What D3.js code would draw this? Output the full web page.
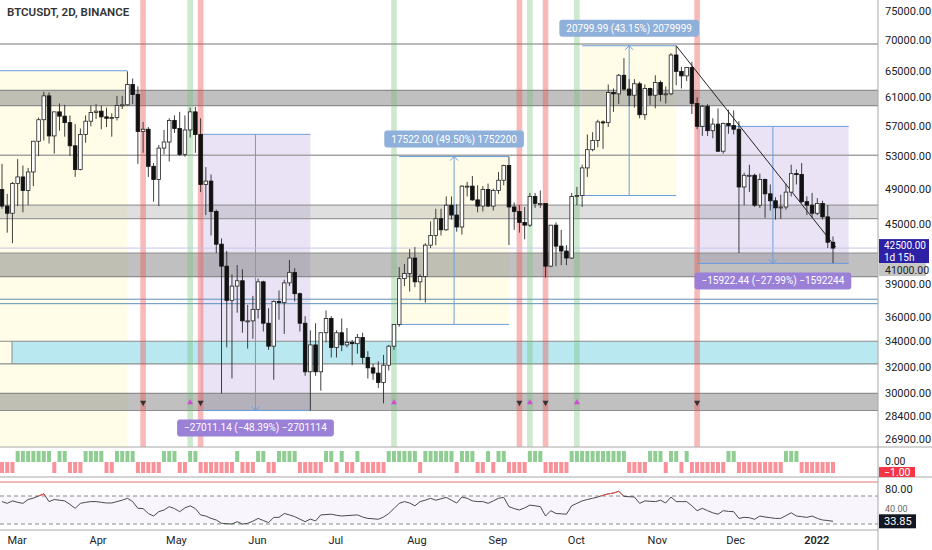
<!DOCTYPE html>
<html>
<head>
<meta charset="utf-8">
<script src="https://cdn.jsdelivr.net/npm/d3@7"></script>
<style>
  body { margin: 0; background: #fff; }
  svg { display: block; font-family: Roboto, "Noto Sans", sans-serif; }
</style>
</head>
<body>
<svg id="chart"></svg>
<script>
// ---- data (prices in thousands of USDT, 2D candles from 2021-02-24) ----
let firstCandle = '2021-02-24';
let opens = [
  48.9,47.0,46.2,49.6,50.4,48.8,51.0,54.9,57.8,61.2, 55.6,58.9,58.3,57.4,54.3,51.3,55.8,57.6,58.8,59.0,
  58.2,58.0,58.1,59.8,59.9,62.9,61.4,56.2,56.5,51.7, 50.1,54.0,54.8,57.7,56.6,53.2,56.4,58.9,55.8,49.5,
  49.9,46.4,42.9,40.7,37.5,38.8,39.3,35.7,35.7,36.7, 39.2,35.5,33.6,37.4,37.3,39.1,40.1,38.1,35.5,31.6,
  33.7,31.6,34.7,35.9,33.5,34.7,33.7,33.9,33.8,34.3, 32.7,31.9,31.5,30.8,32.1,33.6,35.4,39.5,40.0,41.5,
  39.2,39.7,42.8,43.8,45.6,44.4,47.1,46.0,44.7,49.3, 49.3,47.7,47.0,48.9,47.0,48.8,50.0,51.8,46.9,46.4,
  45.2,44.9,48.1,47.3,47.3,40.7,44.9,42.7,42.2,41.5, 48.1,48.2,51.5,53.8,55.0,57.5,57.4,61.7,61.5,64.3,
  62.2,61.3,63.0,58.5,62.3,61.3,63.2,61.4,61.5,67.5, 64.9,64.2,65.5,60.1,56.9,59.7,56.3,57.2,53.6,57.3,
  57.0,56.5,49.2,50.6,50.6,47.1,50.1,48.4,47.6,46.8, 46.9,48.6,50.8,50.7,47.5,47.1,46.2,47.3,45.8,43.1
];
let highs = [
  52.0,48.4,49.8,52.6,51.8,51.5,54.9,58.1,61.8,61.7, 58.9,60.1,59.9,58.4,57.2,56.6,58.4,59.8,60.0,59.8,
  59.5,58.7,61.2,61.2,64.9,63.8,62.6,57.5,56.8,52.1, 54.4,56.4,58.0,58.4,58.9,58.4,59.5,59.6,58.0,51.6,
  50.7,46.6,43.5,42.2,39.9,40.8,40.4,37.1,37.9,39.5, 39.3,36.8,37.5,38.4,39.4,41.3,40.5,38.2,36.1,34.9,
  35.5,34.7,36.6,36.1,34.9,35.9,35.1,34.1,34.6,34.7, 33.2,32.2,32.4,32.9,33.7,35.4,40.6,40.9,42.4,42.6,
  39.9,43.0,45.3,46.7,46.7,48.1,48.1,47.2,49.4,49.8, 50.5,49.4,49.3,49.6,49.0,51.0,51.9,52.9,47.4,47.1,
  46.9,48.5,48.5,48.8,47.3,44.9,45.2,44.4,42.8,48.5, 49.2,51.9,55.8,56.1,57.8,57.7,62.9,62.3,64.5,67.0,
  63.7,63.7,63.3,62.9,62.4,64.3,63.5,62.6,67.8,69.0, 65.6,65.5,66.4,61.0,59.9,60.0,58.0,59.4,57.4,59.2,
  59.1,57.6,50.9,51.9,50.8,50.8,50.2,49.5,48.0,48.3, 49.6,51.9,51.3,52.1,48.1,48.5,47.9,47.6,47.1,43.7
];
let lows = [
  46.7,44.1,43.0,47.0,46.3,47.1,49.3,53.0,55.0,54.6, 53.3,56.3,55.5,53.0,50.4,51.2,54.7,56.9,57.9,56.5,
  56.8,55.5,57.7,59.3,59.8,60.0,52.0,53.4,50.4,47.5, 47.0,53.2,52.3,56.0,53.0,52.9,55.4,53.4,48.6,46.0,
  43.8,42.0,30.0,33.5,31.1,36.4,34.7,33.4,34.2,35.9, 34.8,33.3,31.0,35.8,34.6,38.8,37.4,34.8,31.3,28.8,
  31.3,30.2,33.9,32.7,32.7,33.2,33.5,32.1,33.0,32.2, 31.1,31.0,30.4,29.3,31.7,33.3,35.2,38.8,38.3,38.7,
  37.5,37.3,42.5,42.8,43.8,44.3,45.5,44.2,43.9,48.1, 47.6,46.3,46.4,46.9,46.5,48.4,49.4,42.8,44.4,44.1,
  43.4,44.7,46.8,46.8,39.6,40.6,40.7,40.8,40.8,41.4, 47.1,46.9,50.4,53.6,54.1,53.9,56.8,58.9,60.0,62.0,
  59.7,59.5,58.0,57.8,59.9,59.4,60.4,60.1,61.3,62.8, 62.3,63.4,58.6,56.5,55.6,55.6,55.3,53.5,53.3,55.9,
  55.8,42.0,47.1,48.6,46.9,46.8,45.7,46.5,45.5,45.6, 46.6,48.1,49.5,47.3,46.0,45.7,46.0,45.5,42.5,41.0
];
let closes = [
  47.0,46.2,49.6,50.4,48.8,51.0,54.9,57.8,61.2,55.6, 58.9,58.3,57.4,54.3,51.3,55.8,57.6,58.8,59.0,58.2,
  58.0,58.1,59.8,59.9,62.9,61.4,56.2,56.5,51.7,50.1, 54.0,54.8,57.7,56.6,53.2,56.4,58.9,55.8,49.5,49.9,
  46.4,42.9,40.7,37.5,38.8,39.3,35.7,35.7,36.7,39.2, 35.5,33.6,37.4,37.3,39.1,40.1,38.1,35.5,31.6,33.7,
  31.6,34.7,35.9,33.5,34.7,33.7,33.9,33.8,34.3,32.7, 31.9,31.5,30.8,32.1,33.6,35.4,39.5,40.0,41.5,39.2,
  39.7,42.8,43.8,45.6,44.4,47.1,46.0,44.7,49.3,49.3, 47.7,47.0,48.9,47.0,48.8,50.0,51.8,46.9,46.4,45.2,
  44.9,48.1,47.3,47.3,40.7,44.9,42.7,42.2,41.5,48.1, 48.2,51.5,53.8,55.0,57.5,57.4,61.7,61.5,64.3,62.2,
  61.3,63.0,58.5,62.3,61.3,63.2,61.4,61.5,67.5,64.9, 64.2,65.5,60.1,56.9,59.7,56.3,57.2,53.6,57.3,57.0,
  56.5,49.2,50.6,50.6,47.1,50.1,48.4,47.6,46.8,46.9, 48.6,50.8,50.7,47.5,47.1,46.2,47.3,45.8,43.1,42.5
];
// trend state of the first indicator pane: 1 = green, -1 = red
let bias = [
  -1,-1,-1,1,1,1,1,1,1,1, -1,1,1,-1,-1,-1,1,1,1,1,
  -1,-1,1,1,1,1,-1,-1,-1,-1, -1,1,1,1,-1,-1,1,1,-1,-1,
  -1,-1,-1,-1,-1,1,-1,-1,-1,1, 1,-1,-1,1,1,1,1,-1,-1,-1,
  -1,-1,1,1,-1,1,-1,-1,1,-1, -1,-1,-1,-1,1,1,1,1,1,1,
  -1,1,1,1,1,1,1,-1,1,1, 1,-1,-1,1,-1,1,1,-1,-1,-1,
  -1,1,1,1,-1,-1,-1,-1,-1,1, 1,1,1,1,1,1,1,1,1,1,
  -1,-1,-1,-1,1,1,1,-1,1,1, -1,1,-1,-1,-1,-1,-1,-1,-1,1,
  1,-1,-1,-1,-1,-1,-1,-1,-1,-1, 1,1,1,-1,-1,-1,-1,-1,-1,-1
];
let rsi = [
  62,59.5,63,61,59.5,65,67,70,73,62, 65,64,63,58,52.4,59.5,61,62,62,61,
  60,60,62,64,66.7,62,52.4,52,45,41.4, 47.6,50,54.8,52,47.6,53,56,52,42.9,41.4,
  38,35.7,31,30.5,30,33.3,30,31,34,38, 35,32,39.5,39.5,45,43,40.5,37,33.3,37,
  34.4,43,43.5,44,42.5,41.4,42,42.5,43,40, 38,37.5,36.7,40,45,52,59.5,62,60,56,
  62,64,66.7,64,66,68,64,60,68.6,66.7, 63,62,62,59.5,63,66.7,68,54.8,52,50,
  53,57,56,54.8,41.4,49,45,44.5,44,56, 59.5,63,65,66.7,68.6,71,73,74.3,76.7,69.5,
  69,68.6,59.5,63,62.5,62,64,60,68.6,62, 62,62,56,49,52.4,49,46,44,49,48,
  47.6,38,39.5,39,36.7,41.4,40,39,38,38, 42,46,41.4,40.5,39.5,41.4,38,35.7,35,33.85
];

let redSignals = ['2021-04-19', '2021-05-11', '2021-09-10', '2021-09-20', '2021-11-17'];
let greenSignals = ['2021-05-07', '2021-07-24', '2021-09-14', '2021-10-02'];

let lineLevels = [69.3, 53.1];
let darkBands = [[59.8, 62.0], [39.7, 42.0], [28.8, 30.0]];
let lightBands = [[45.6, 47.1]];
let cyanBands = [[32.2, 34.0]];
let blueLevels = [37.2, 37.6];

let longZones = [
  { from: '2021-02-10', to: '2021-04-13', top: 65.0, bottom: 26.0, text: '' },
  { from: '2021-07-26', to: '2021-09-06', top: 52.92, bottom: 35.398, text: '17522.00 (49.50%) 1752200' },
  { from: '2021-10-04', to: '2021-11-09', top: 69.004, bottom: 48.204, text: '20799.99 (43.15%) 2079999' }
];
let shortZones = [
  { from: '2021-05-11', to: '2021-06-22', top: 55.816, bottom: 28.805, text: '\u221227011.14 (\u221248.39%) \u22122701114' },
  { from: '2021-11-17', to: '2022-01-14', top: 56.886, bottom: 40.964, text: '\u221215922.44 (\u221227.99%) \u22121592244' }
];
let trendLine = [['2021-11-09', 69.0], ['2022-01-09', 42.6]];

let priceTicks = [75, 70, 65, 61, 57, 53, 49, 45, 39, 36, 34, 32, 30, 28.4, 26.9];
let lastPrice = 42.5;
let monthTicks = ['2021-03-01','2021-04-01','2021-05-01','2021-06-01','2021-07-01','2021-08-01',
                  '2021-09-01','2021-10-01','2021-11-01','2021-12-01','2022-01-01'];

// ---- setup ----
let w = 932, h = 550;
let axisX = 878;
let day = s => new Date(s + 'T00:00:00Z');
let start = day(firstCandle);
let candleDates = d3.range(closes.length).map(i => d3.utcDay.offset(start, 2 * i));

let svg = d3.select('#chart').attr('width', w).attr('height', h);

let x = d3.scaleUtc().domain([start, candleDates[candleDates.length - 1]]).range([2, 833]);
let y = d3.scaleLog().domain([26.9, 75]).range([439, 11]);
let yBias = d3.scaleLinear().domain([-1, 1]).range([473, 451]);
let yRsi = d3.scaleLinear().domain([30, 70]).range([524, 496]);

let defs = svg.append('defs');
let clip = (id, x0, y0, cw, ch) => defs.append('clipPath').attr('id', id)
  .append('rect').attr('x', x0).attr('y', y0).attr('width', cw).attr('height', ch);
clip('mainClip', 0, 0, axisX, 447);
clip('biasClip', 0, 447, axisX, 30);
clip('rsiClip', 0, 477, axisX, 53);
clip('rsiHigh', 0, 477, axisX, yRsi(70) - 477);
clip('rsiLow', 0, yRsi(30), axisX, 530 - yRsi(30));

let main = svg.append('g').attr('clip-path', 'url(#mainClip)');

// zone fills
main.selectAll('rect.long').data(longZones).enter().append('rect')
  .attr('x', d => x(day(d.from))).attr('width', d => x(day(d.to)) - x(day(d.from)))
  .attr('y', d => y(d.top)).attr('height', d => y(d.bottom) - y(d.top))
  .attr('fill', 'rgba(255,235,59,0.12)');
main.selectAll('rect.short').data(shortZones).enter().append('rect')
  .attr('x', d => x(day(d.from))).attr('width', d => x(day(d.to)) - x(day(d.from)))
  .attr('y', d => y(d.top)).attr('height', d => y(d.bottom) - y(d.top))
  .attr('fill', 'rgba(149,117,205,0.2)');

// horizontal zones
let band = (list, fill, stroke) => {
  list.forEach(b => {
    main.append('rect').attr('x', 0).attr('width', axisX)
      .attr('y', y(b[1])).attr('height', y(b[0]) - y(b[1]))
      .attr('fill', fill);
    [b[0], b[1]].forEach(v => main.append('line')
      .attr('x1', 0).attr('x2', axisX).attr('y1', y(v)).attr('y2', y(v))
      .attr('stroke', stroke).attr('stroke-width', 1.2));
  });
};
band(darkBands, 'rgba(115,115,115,0.45)', '#8d8d8d');
band(lightBands, 'rgba(150,150,150,0.3)', '#9a9a9a');
cyanBands.forEach(b => {
  main.append('rect').attr('x', 12).attr('width', axisX - 12)
    .attr('y', y(b[1])).attr('height', y(b[0]) - y(b[1])).attr('fill', '#b9e8f0');
  main.append('line').attr('x1', 12).attr('x2', 12).attr('y1', y(b[1])).attr('y2', y(b[0]))
    .attr('stroke', '#8d8d8d');
  [b[0], b[1]].forEach(v => main.append('line')
    .attr('x1', 0).attr('x2', axisX).attr('y1', y(v)).attr('y2', y(v))
    .attr('stroke', '#8d8d8d').attr('stroke-width', 1.2));
});
lineLevels.forEach(v => main.append('line')
  .attr('x1', 0).attr('x2', axisX).attr('y1', y(v)).attr('y2', y(v))
  .attr('stroke', '#a3a3a3').attr('stroke-width', 1.5));
blueLevels.forEach(v => main.append('line')
  .attr('x1', 0).attr('x2', axisX).attr('y1', y(v)).attr('y2', y(v))
  .attr('stroke', '#5d8fb8').attr('stroke-width', 1));

// signal stripes
main.selectAll('rect.red').data(redSignals).enter().append('rect')
  .attr('x', d => x(day(d)) - 2.8).attr('width', 5.6).attr('y', 0).attr('height', 447)
  .attr('fill', 'rgba(242,80,80,0.4)');
main.selectAll('rect.green').data(greenSignals).enter().append('rect')
  .attr('x', d => x(day(d)) - 2.8).attr('width', 5.6).attr('y', 0).attr('height', 447)
  .attr('fill', 'rgba(102,187,106,0.33)');

// zone edges + arrows
let blue = '#6b9ddd';
let edges = (zones, up) => zones.forEach(z => {
  let x0 = x(day(z.from)), x1 = x(day(z.to));
  let xm = (x0 + x1) / 2;
  [z.top, z.bottom].forEach(v => main.append('line')
    .attr('x1', x0).attr('x2', x1).attr('y1', y(v)).attr('y2', y(v))
    .attr('stroke', blue).attr('stroke-width', 1));
  if (!z.text) return;
  main.append('line').attr('x1', xm).attr('x2', xm).attr('y1', y(z.top)).attr('y2', y(z.bottom))
    .attr('stroke', blue).attr('stroke-width', 1);
  let tip = up ? y(z.top) : y(z.bottom);
  let s = up ? 1 : -1;
  main.append('path').attr('d', `M${xm - 4},${tip + 4 * s} L${xm},${tip} L${xm + 4},${tip + 4 * s}`)
    .attr('fill', 'none').attr('stroke', blue).attr('stroke-width', 1);
});
edges(longZones, true);
edges(shortZones, false);

main.append('line')
  .attr('x1', x(day(trendLine[0][0]))).attr('y1', y(trendLine[0][1]))
  .attr('x2', x(day(trendLine[1][0]))).attr('y2', y(trendLine[1][1]))
  .attr('stroke', '#222').attr('stroke-width', 1);

// last price line
main.append('line').attr('x1', 0).attr('x2', axisX).attr('y1', y(lastPrice)).attr('y2', y(lastPrice))
  .attr('stroke', '#c9c4e6').attr('stroke-width', 1);

// candles
let candles = main.selectAll('g.candle').data(candleDates).enter().append('g');
candles.append('line')
  .attr('x1', d => x(d)).attr('x2', d => x(d))
  .attr('y1', (d, i) => y(highs[i])).attr('y2', (d, i) => y(lows[i]))
  .attr('stroke', '#2a2a2a').attr('stroke-width', 0.9);
candles.append('rect')
  .attr('x', d => x(d) - 1.8).attr('width', 3.6)
  .attr('y', (d, i) => y(Math.max(opens[i], closes[i])))
  .attr('height', (d, i) => Math.max(1, Math.abs(y(opens[i]) - y(closes[i]))))
  .attr('fill', (d, i) => closes[i] >= opens[i] ? '#fff' : '#111')
  .attr('stroke', (d, i) => closes[i] >= opens[i] ? '#222' : '#111')
  .attr('stroke-width', 0.8);

// signal markers
let triY = y(29.35);
main.selectAll('path.dn').data(redSignals).enter().append('path')
  .attr('d', d3.symbol(d3.symbolTriangle, 16))
  .attr('transform', d => `translate(${x(day(d))},${triY}) rotate(180)`)
  .attr('fill', '#333');
main.selectAll('path.up').data(greenSignals).enter().append('path')
  .attr('d', d3.symbol(d3.symbolTriangle, 16))
  .attr('transform', d => `translate(${x(day(d))},${triY})`)
  .attr('fill', '#d04ed6');

// zone labels
let label = (z, up, fill) => {
  if (!z.text) return;
  let xm = (x(day(z.from)) + x(day(z.to))) / 2;
  let g = svg.append('g');
  let t = g.append('text').attr('x', xm).attr('text-anchor', 'middle')
    .attr('font-size', 10).attr('fill', '#fff').text(z.text);
  let tw = t.node().getComputedTextLength() + 14;
  let bh = 17;
  let by = up ? y(z.top) - 9 - bh : y(z.bottom) + 9;
  g.insert('rect', 'text').attr('x', xm - tw / 2).attr('y', by).attr('width', tw).attr('height', bh)
    .attr('rx', 3).attr('fill', fill);
  t.attr('y', by + bh / 2 + 3.5);
};
longZones.forEach(z => label(z, true, '#8fb0da'));
shortZones.forEach(z => label(z, false, '#9b80d8'));

// ---- indicator pane 1 ----
let pane1 = svg.append('g').attr('clip-path', 'url(#biasClip)');
pane1.selectAll('rect').data(candleDates).enter().append('rect')
  .attr('x', d => x(d) - 2).attr('width', 4)
  .attr('y', (d, i) => bias[i] > 0 ? yBias(1) : yBias(0))
  .attr('height', yBias(0) - yBias(1))
  .attr('fill', (d, i) => bias[i] > 0 ? 'rgba(76,175,80,0.62)' : 'rgba(242,54,69,0.55)');

// ---- RSI pane ----
let pane2 = svg.append('g').attr('clip-path', 'url(#rsiClip)');
pane2.append('rect').attr('x', 0).attr('width', axisX).attr('y', yRsi(70)).attr('height', yRsi(30) - yRsi(70))
  .attr('fill', 'rgba(126,87,194,0.05)');
[70, 30].forEach(v => pane2.append('line').attr('x1', 0).attr('x2', axisX)
  .attr('y1', yRsi(v)).attr('y2', yRsi(v))
  .attr('stroke', '#888').attr('stroke-dasharray', '4,3').attr('stroke-width', 1));
pane2.append('line').attr('x1', 0).attr('x2', axisX).attr('y1', yRsi(90)).attr('y2', yRsi(90))
  .attr('stroke', '#e57373').attr('stroke-width', 1);
let rsiLine = d3.line().x((d, i) => x(candleDates[i])).y(d => yRsi(d));
pane2.append('path').attr('d', rsiLine(rsi)).attr('fill', 'none').attr('stroke', '#4a4a4a').attr('stroke-width', 1);
svg.append('path').attr('clip-path', 'url(#rsiHigh)').attr('d', rsiLine(rsi))
  .attr('fill', 'none').attr('stroke', '#ef5350').attr('stroke-width', 1);
svg.append('path').attr('clip-path', 'url(#rsiLow)').attr('d', rsiLine(rsi))
  .attr('fill', 'none').attr('stroke', '#66bb6a').attr('stroke-width', 1);

// ---- frame ----
let frame = '#a8a8a8';
svg.append('line').attr('x1', 0).attr('x2', w).attr('y1', 447).attr('y2', 447).attr('stroke', frame);
svg.append('line').attr('x1', 0).attr('x2', w).attr('y1', 477).attr('y2', 477).attr('stroke', frame);
svg.append('line').attr('x1', 0).attr('x2', axisX).attr('y1', 530).attr('y2', 530).attr('stroke', frame);
svg.append('line').attr('x1', axisX).attr('x2', axisX).attr('y1', 0).attr('y2', h).attr('stroke', frame);

// ---- price axis ----
let fmt = d3.format('.2f');
svg.selectAll('text.tick').data(priceTicks).enter().append('text')
  .attr('x', 885).attr('y', d => y(d) + 4)
  .attr('font-size', 11).attr('fill', '#222')
  .text(d => fmt(d * 1000));
// last price box, with the 41000 label pushed just under it
let boxTop = y(lastPrice) - 9;
svg.append('rect').attr('x', axisX + 1).attr('y', boxTop).attr('width', 50).attr('height', 24).attr('fill', '#2d20a4');
svg.append('text').attr('x', 884).attr('y', boxTop + 10).attr('font-size', 10).attr('fill', '#fff').text(fmt(lastPrice * 1000));
svg.append('text').attr('x', 884).attr('y', boxTop + 21.5).attr('font-size', 10).attr('fill', '#fff').text('1d 15h');
svg.append('rect').attr('x', axisX + 1).attr('y', boxTop + 24).attr('width', 47).attr('height', 13).attr('fill', '#c6c6c6');
svg.append('text').attr('x', 885).attr('y', boxTop + 34.5).attr('font-size', 10.5).attr('fill', '#222').text(fmt(41000));

// pane axes
svg.append('text').attr('x', 885).attr('y', yBias(0) + 2.5).attr('font-size', 10.5).attr('fill', '#222').text('0.00');
svg.append('rect').attr('x', axisX + 1).attr('y', 467).attr('width', 36).attr('height', 10).attr('fill', '#f23645');
svg.append('text').attr('x', 884).attr('y', 476).attr('font-size', 10.5).attr('fill', '#fff').text('\u22121.00');
svg.append('text').attr('x', 885).attr('y', yRsi(80) + 4).attr('font-size', 11).attr('fill', '#222').text('80.00');
svg.append('text').attr('x', 885).attr('y', 512).attr('font-size', 9).attr('fill', '#666').text('40.00');
svg.append('rect').attr('x', axisX + 1).attr('y', yRsi(33.85) - 7).attr('width', 37).attr('height', 14).attr('fill', '#131722');
svg.append('text').attr('x', 884).attr('y', yRsi(33.85) + 4).attr('font-size', 11).attr('fill', '#fff').text('33.85');

// ---- time axis ----
svg.selectAll('text.month').data(monthTicks).enter().append('text')
  .attr('x', d => x(day(d)) + 2).attr('y', 544)
  .attr('text-anchor', 'middle').attr('font-size', 11).attr('fill', '#222')
  .attr('font-weight', d => d.endsWith('01-01') ? 600 : 400)
  .text(d => d.endsWith('01-01') ? d.slice(0, 4) : d3.utcFormat('%b')(day(d)));

// ---- title ----
svg.append('text').attr('x', 7).attr('y', 16).attr('font-size', 11.5).attr('font-weight', 600)
  .attr('fill', '#333').text('BTCUSDT, 2D, BINANCE');
</script>
</body>
</html>
